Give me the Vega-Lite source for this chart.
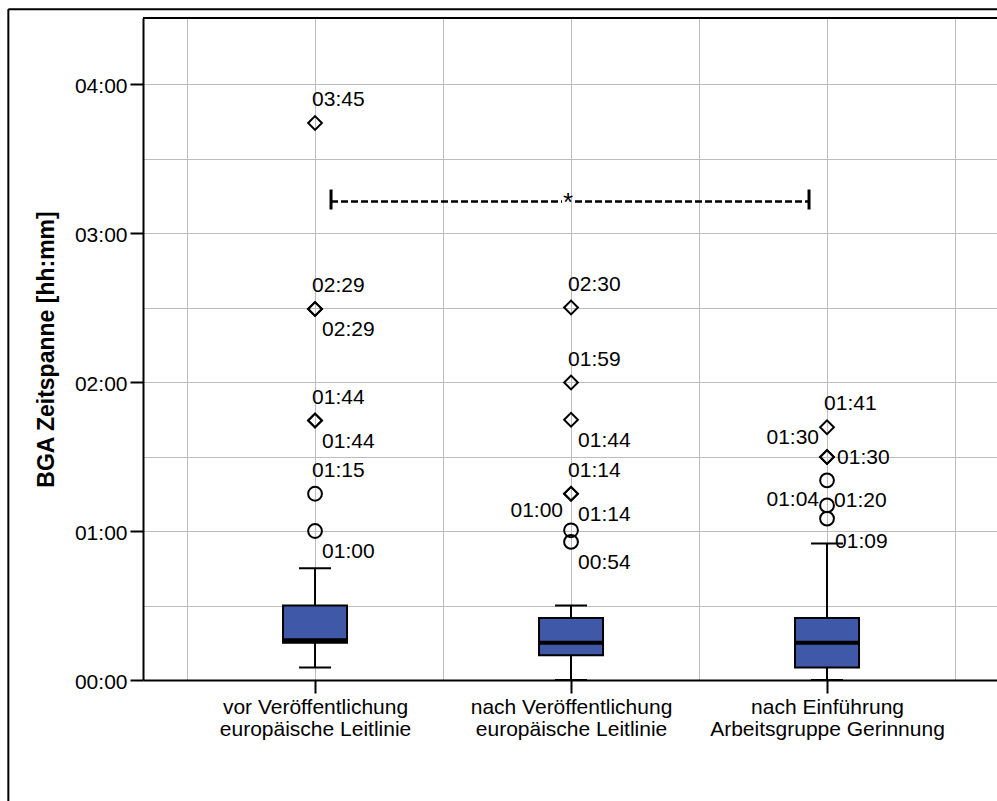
{
  "$schema": "https://vega.github.io/schema/vega-lite/v6.json",
  "width": 854,
  "height": 662,
  "autosize": {"type": "none"},
  "padding": {"left": 143, "top": 18, "right": 0, "bottom": 121},
  "background": "white",
  "config": {
    "view": {"stroke": null},
    "font": "Liberation Sans",
    "text": {"font": "Liberation Sans", "fontSize": 21, "color": "black"}
  },
  "resolve": {"axis": {"x": "independent", "y": "independent"}},
  "datasets": {
    "boxen": [
      {"gruppe": 1, "unteres": 5, "q1": 15, "median": 16, "q3": 30, "oberes": 45},
      {"gruppe": 2, "unteres": 0, "q1": 10, "median": 15, "q3": 25, "oberes": 30},
      {"gruppe": 3, "unteres": 0, "q1": 5, "median": 15, "q3": 25, "oberes": 55}
    ],
    "ausreisser": [
      {"gruppe": 1, "minuten": 224.3, "typ": "Extremwert", "label": "03:45", "lage": "oben"},
      {"gruppe": 1, "minuten": 149.4, "typ": "Extremwert", "label": "02:29", "lage": "oben"},
      {"gruppe": 1, "minuten": 149.4, "typ": "Extremwert", "label": "02:29", "lage": "rechts unten"},
      {"gruppe": 1, "minuten": 104.5, "typ": "Extremwert", "label": "01:44", "lage": "oben"},
      {"gruppe": 1, "minuten": 104.5, "typ": "Extremwert", "label": "01:44", "lage": "rechts unten"},
      {"gruppe": 1, "minuten": 75.0, "typ": "Ausreißer", "label": "01:15", "lage": "oben"},
      {"gruppe": 1, "minuten": 60.0, "typ": "Ausreißer", "label": "01:00", "lage": "rechts unten"},
      {"gruppe": 2, "minuten": 150.0, "typ": "Extremwert", "label": "02:30", "lage": "oben"},
      {"gruppe": 2, "minuten": 119.8, "typ": "Extremwert", "label": "01:59", "lage": "oben"},
      {"gruppe": 2, "minuten": 104.8, "typ": "Extremwert", "label": "01:44", "lage": "rechts unten"},
      {"gruppe": 2, "minuten": 75.0, "typ": "Extremwert", "label": "01:14", "lage": "oben"},
      {"gruppe": 2, "minuten": 75.0, "typ": "Extremwert", "label": "01:14", "lage": "rechts unten"},
      {"gruppe": 2, "minuten": 60.3, "typ": "Ausreißer", "label": "01:00", "lage": "links"},
      {"gruppe": 2, "minuten": 55.6, "typ": "Ausreißer", "label": "00:54", "lage": "rechts unten"},
      {"gruppe": 3, "minuten": 101.8, "typ": "Extremwert", "label": "01:41", "lage": "oben"},
      {"gruppe": 3, "minuten": 89.8, "typ": "Extremwert", "label": "01:30", "lage": "links"},
      {"gruppe": 3, "minuten": 89.8, "typ": "Extremwert", "label": "01:30", "lage": "rechts"},
      {"gruppe": 3, "minuten": 80.4, "typ": "Ausreißer", "label": "01:20", "lage": "rechts unten"},
      {"gruppe": 3, "minuten": 70.3, "typ": "Ausreißer", "label": "01:09", "lage": "rechts weit unten"},
      {"gruppe": 3, "minuten": 65.0, "typ": "Ausreißer", "label": "01:04", "lage": "links"}
    ],
    "vergleich": [
      {"von": 1, "mitte": 2, "bis": 3, "minuten": 192.7, "label": "*"}
    ],
    "rahmen": [
      {}
    ]
  },
  "layer": [
    {
      "data": {"name": "boxen"},
      "mark": {"type": "rule", "color": "black", "strokeWidth": 2},
      "encoding": {
        "x": {
          "field": "gruppe", "type": "quantitative",
          "scale": {"type": "linear", "domain": [0.328, 3.664], "nice": false, "zero": false},
          "axis": {
            "values": [0.5, 1, 1.5, 2, 2.5, 3, 3.5],
            "title": null,
            "grid": true, "gridColor": "#bdbdbd", "gridWidth": 1, "gridOpacity": 1,
            "domain": true, "domainColor": "black", "domainWidth": 2,
            "ticks": true, "tickSize": 13, "tickWidth": 2, "tickColor": "black",
            "tickOpacity": {"condition": {"test": "datum.value % 1 != 0", "value": 0}, "value": 1},
            "labelExpr": "datum.value == 1 ? ['vor Veröffentlichung', 'europäische Leitlinie'] : datum.value == 2 ? ['nach Veröffentlichung', 'europäische Leitlinie'] : datum.value == 3 ? ['nach Einführung', 'Arbeitsgruppe Gerinnung'] : ''",
            "labelFont": "Liberation Sans", "labelFontSize": 21, "labelColor": "black",
            "labelPadding": 3, "labelLineHeight": 22, "labelLimit": 0,
            "labelOverlap": false, "labelFlush": false, "labelBound": false
          }
        },
        "y": {
          "field": "unteres", "type": "quantitative",
          "scale": {"domain": [0, 266.6], "nice": false, "zero": false},
          "axis": {
            "values": [0, 30, 60, 90, 120, 150, 180, 210, 240],
            "title": "BGA Zeitspanne [hh:mm]",
            "titleFont": "Liberation Sans", "titleFontSize": 23, "titleFontWeight": "bold",
            "titleColor": "black", "titlePadding": 16,
            "grid": true, "gridColor": "#bdbdbd", "gridWidth": 1, "gridOpacity": 1,
            "domain": true, "domainColor": "black", "domainWidth": 2,
            "ticks": true, "tickSize": 13, "tickWidth": 2, "tickColor": "black",
            "tickOpacity": {"condition": {"test": "datum.value % 60 != 0", "value": 0}, "value": 1},
            "labelExpr": "datum.value % 60 == 0 ? '0' + floor(datum.value / 60) + ':00' : ''",
            "labelFont": "Liberation Sans", "labelFontSize": 21, "labelColor": "black",
            "labelPadding": 3, "labelOffset": 2,
            "labelOverlap": false, "labelFlush": false, "labelBound": false
          }
        },
        "y2": {"field": "oberes"}
      }
    },
    {
      "data": {"name": "boxen"},
      "mark": {"type": "rule", "color": "black", "strokeWidth": 2, "xOffset": -16, "x2Offset": 16},
      "encoding": {
        "x": {"field": "gruppe", "type": "quantitative", "axis": null},
        "x2": {"field": "gruppe"},
        "y": {"field": "unteres", "type": "quantitative", "axis": null}
      }
    },
    {
      "data": {"name": "boxen"},
      "mark": {"type": "rule", "color": "black", "strokeWidth": 2, "xOffset": -16, "x2Offset": 16},
      "encoding": {
        "x": {"field": "gruppe", "type": "quantitative", "axis": null},
        "x2": {"field": "gruppe"},
        "y": {"field": "oberes", "type": "quantitative", "axis": null}
      }
    },
    {
      "data": {"name": "boxen"},
      "mark": {"type": "rect", "fill": "#3f58a8", "stroke": "black", "strokeWidth": 2, "xOffset": -32, "x2Offset": 32},
      "encoding": {
        "x": {"field": "gruppe", "type": "quantitative", "axis": null},
        "x2": {"field": "gruppe"},
        "y": {"field": "q1", "type": "quantitative", "axis": null},
        "y2": {"field": "q3"}
      }
    },
    {
      "data": {"name": "boxen"},
      "mark": {"type": "rule", "color": "black", "strokeWidth": 4, "xOffset": -32, "x2Offset": 32},
      "encoding": {
        "x": {"field": "gruppe", "type": "quantitative", "axis": null},
        "x2": {"field": "gruppe"},
        "y": {"field": "median", "type": "quantitative", "axis": null}
      }
    },
    {
      "data": {"name": "ausreisser"},
      "mark": {"type": "point", "filled": false, "color": "black", "strokeWidth": 2, "size": 190, "opacity": 1},
      "encoding": {
        "x": {"field": "gruppe", "type": "quantitative", "axis": null},
        "y": {"field": "minuten", "type": "quantitative", "axis": null},
        "shape": {"field": "typ", "type": "nominal", "scale": {"domain": ["Ausreißer", "Extremwert"], "range": ["circle", "diamond"]}, "legend": null}
      }
    },
    {
      "data": {"name": "ausreisser"},
      "transform": [{"filter": "datum.lage == 'oben'"}],
      "mark": {"type": "text", "align": "left", "baseline": "middle", "dx": -3, "dy": -23, "fontSize": 21, "font": "Liberation Sans", "color": "black"},
      "encoding": {
        "x": {"field": "gruppe", "type": "quantitative", "axis": null},
        "y": {"field": "minuten", "type": "quantitative", "axis": null},
        "text": {"field": "label"}
      }
    },
    {
      "data": {"name": "ausreisser"},
      "transform": [{"filter": "datum.lage == 'rechts unten'"}],
      "mark": {"type": "text", "align": "left", "baseline": "middle", "dx": 7, "dy": 21, "fontSize": 21, "font": "Liberation Sans", "color": "black"},
      "encoding": {
        "x": {"field": "gruppe", "type": "quantitative", "axis": null},
        "y": {"field": "minuten", "type": "quantitative", "axis": null},
        "text": {"field": "label"}
      }
    },
    {
      "data": {"name": "ausreisser"},
      "transform": [{"filter": "datum.lage == 'rechts weit unten'"}],
      "mark": {"type": "text", "align": "left", "baseline": "middle", "dx": 8, "dy": 37, "fontSize": 21, "font": "Liberation Sans", "color": "black"},
      "encoding": {
        "x": {"field": "gruppe", "type": "quantitative", "axis": null},
        "y": {"field": "minuten", "type": "quantitative", "axis": null},
        "text": {"field": "label"}
      }
    },
    {
      "data": {"name": "ausreisser"},
      "transform": [{"filter": "datum.lage == 'links'"}],
      "mark": {"type": "text", "align": "right", "baseline": "middle", "dx": -8, "dy": -19, "fontSize": 21, "font": "Liberation Sans", "color": "black"},
      "encoding": {
        "x": {"field": "gruppe", "type": "quantitative", "axis": null},
        "y": {"field": "minuten", "type": "quantitative", "axis": null},
        "text": {"field": "label"}
      }
    },
    {
      "data": {"name": "ausreisser"},
      "transform": [{"filter": "datum.lage == 'rechts'"}],
      "mark": {"type": "text", "align": "left", "baseline": "middle", "dx": 10, "dy": 1, "fontSize": 21, "font": "Liberation Sans", "color": "black"},
      "encoding": {
        "x": {"field": "gruppe", "type": "quantitative", "axis": null},
        "y": {"field": "minuten", "type": "quantitative", "axis": null},
        "text": {"field": "label"}
      }
    },
    {
      "data": {"name": "vergleich"},
      "mark": {"type": "rule", "color": "black", "strokeWidth": 2.5, "strokeDash": [7, 3], "xOffset": 16, "x2Offset": -9},
      "encoding": {
        "x": {"field": "von", "type": "quantitative", "axis": null},
        "x2": {"field": "mitte"},
        "y": {"field": "minuten", "type": "quantitative", "axis": null}
      }
    },
    {
      "data": {"name": "vergleich"},
      "mark": {"type": "rule", "color": "black", "strokeWidth": 2.5, "strokeDash": [7, 3], "xOffset": 4, "x2Offset": -18},
      "encoding": {
        "x": {"field": "mitte", "type": "quantitative", "axis": null},
        "x2": {"field": "bis"},
        "y": {"field": "minuten", "type": "quantitative", "axis": null}
      }
    },
    {
      "data": {"name": "vergleich"},
      "mark": {"type": "rule", "color": "black", "strokeWidth": 3, "xOffset": 16, "yOffset": -12, "y2Offset": 8},
      "encoding": {
        "x": {"field": "von", "type": "quantitative", "axis": null},
        "y": {"field": "minuten", "type": "quantitative", "axis": null},
        "y2": {"field": "minuten"}
      }
    },
    {
      "data": {"name": "vergleich"},
      "mark": {"type": "rule", "color": "black", "strokeWidth": 3, "xOffset": -18, "yOffset": -12, "y2Offset": 8},
      "encoding": {
        "x": {"field": "bis", "type": "quantitative", "axis": null},
        "y": {"field": "minuten", "type": "quantitative", "axis": null},
        "y2": {"field": "minuten"}
      }
    },
    {
      "data": {"name": "vergleich"},
      "mark": {"type": "text", "align": "center", "baseline": "alphabetic", "dx": -3, "dy": 9, "fontSize": 26, "font": "Liberation Sans", "color": "black"},
      "encoding": {
        "x": {"field": "mitte", "type": "quantitative", "axis": null},
        "y": {"field": "minuten", "type": "quantitative", "axis": null},
        "text": {"field": "label"}
      }
    },
    {
      "data": {"name": "rahmen"},
      "mark": {"type": "rule", "color": "black", "strokeWidth": 2},
      "encoding": {
        "y": {"datum": 266.6, "type": "quantitative", "axis": null}
      }
    },
    {
      "data": {"name": "rahmen"},
      "mark": {"type": "rule", "color": "black", "strokeWidth": 2, "clip": false},
      "encoding": {
        "x": {"datum": -0.198, "type": "quantitative", "axis": null},
        "x2": {"datum": 4.5},
        "y": {"datum": 270.1, "type": "quantitative", "axis": null}
      }
    },
    {
      "data": {"name": "rahmen"},
      "mark": {"type": "rule", "color": "black", "strokeWidth": 2, "clip": false},
      "encoding": {
        "x": {"datum": -0.198, "type": "quantitative", "axis": null},
        "y": {"datum": 270.1, "type": "quantitative", "axis": null},
        "y2": {"datum": -60}
      }
    }
  ]
}
